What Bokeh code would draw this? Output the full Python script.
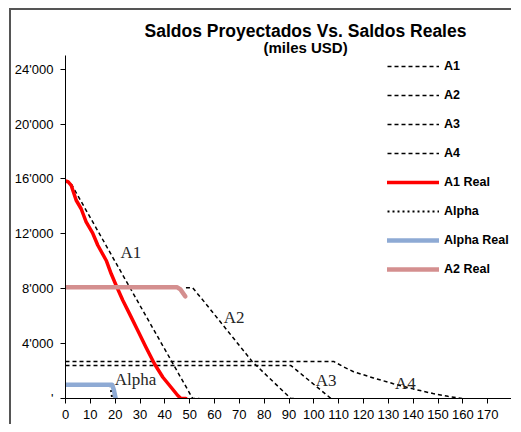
from bokeh.plotting import figure
from bokeh.models import FixedTicker, Label, Range1d, Title
from bokeh.embed import file_html
from bokeh.resources import INLINE

# ---- data ----
a1_x = [0, 1.8, 51.2, 53.9]
a1_y = [15800, 15800, 0, 0]

a2_x = [48.5, 51.2, 55.9, 75.3, 90.7, 92.8]
a2_y = [8070, 8070, 7040, 2670, 0, 0]

a3_x = [0, 90.8, 106.9]
a3_y = [2400, 2400, 0]

a4_x = [0, 108, 112, 116, 124, 132, 140, 148, 154, 159.7]
a4_y = [2700, 2700, 2300, 1950, 1500, 1080, 700, 360, 160, 0]

a1_real_x = [0, 1.0, 2.3, 4.3, 6.3, 8.3, 11.0, 13.0, 16.4, 18.4, 20.4, 23.1, 25.8,
             29.1, 32.4, 35.8, 39.2, 42.5, 45.2, 46.5, 48.5]
a1_real_y = [15850, 15800, 15530, 14450, 13830, 12870, 12030, 11170, 10060, 9090,
             8240, 7140, 6170, 4960, 3740, 2530, 1550, 820, 220, 0, 0]

alpha_x = [0, 18, 18.8]
alpha_y = [1000, 1000, 0]

alpha_real_x = [0, 18.8, 19.5, 20.2]
alpha_real_y = [1000, 1000, 600, 0]

a2_real_x = [0, 45, 46.3, 48.2]
a2_real_y = [8100, 8100, 7950, 7450]

x_ticks = list(range(0, 190, 10))
x_tick_labels = {t: str(t) for t in x_ticks}
x_tick_labels[180] = ""
y_ticks = [0, 4000, 8000, 12000, 16000, 20000, 24000]
y_tick_labels = {0: "'", 4000: "4'000", 8000: "8'000", 12000: "12'000",
                 16000: "16'000", 20000: "20'000", 24000: "24'000"}

title_text = "Saldos Proyectados Vs. Saldos Reales"
subtitle_text = "(miles USD)"

SANS = "Liberation Sans"
SERIF = "Liberation Serif"

p = figure(width=502, height=416, output_backend="svg", toolbar_location=None,
           x_range=Range1d(0, 180), y_range=Range1d(0, 25000),
           min_border_left=53, min_border_right=1, min_border_top=45,
           min_border_bottom=28,
           styles={"margin-left": "9px", "margin-top": "8px",
                   "border-left": "2px solid #555555", "border-top": "2px solid #555555"})
p.outline_line_color = None
p.xgrid.visible = False
p.ygrid.visible = False
p.background_fill_color = "white"
p.border_fill_color = "white"

for ax in (p.xaxis[0], p.yaxis[0]):
    ax.axis_line_color = "black"
    ax.major_tick_line_color = "black"
    ax.minor_tick_line_color = None
    ax.major_tick_in = 0
    ax.major_tick_out = 5
    ax.major_label_text_font = SANS
    ax.major_label_text_font_size = "13px"
    ax.major_label_text_color = "black"

p.xaxis[0].ticker = FixedTicker(ticks=x_ticks)
p.xaxis[0].major_label_overrides = x_tick_labels
p.xaxis[0].major_label_standoff = 6
p.yaxis[0].ticker = FixedTicker(ticks=y_ticks)
p.yaxis[0].major_label_overrides = y_tick_labels
p.yaxis[0].major_label_standoff = 7

dash = "4 3"
p.line(a1_x, a1_y, line_color="black", line_width=1.5, line_dash=dash, legend_label="A1")
p.line(a2_x, a2_y, line_color="black", line_width=1.5, line_dash=dash, legend_label="A2")
p.line(a3_x, a3_y, line_color="black", line_width=1.5, line_dash=dash, legend_label="A3")
p.line(a4_x, a4_y, line_color="black", line_width=1.5, line_dash=dash, legend_label="A4")
p.line(a1_real_x, a1_real_y, line_color="#ff0000", line_width=3.5, line_cap="round",
       line_join="round", legend_label="A1 Real")
p.line(alpha_x, alpha_y, line_color="black", line_width=2, line_dash="2 3", legend_label="Alpha")
p.line(alpha_real_x, alpha_real_y, line_color="#8eaad4", line_width=4.5, line_cap="round",
       line_join="round", legend_label="Alpha Real")
p.line(a2_real_x, a2_real_y, line_color="#d48f8f", line_width=4.5, line_cap="round",
       line_join="round", legend_label="A2 Real")

lg = p.legend[0]
lg.location = (322, 119)
lg.padding = 0
lg.margin = 0
lg.spacing = 9
lg.label_height = 20
lg.glyph_height = 20
lg.glyph_width = 52
lg.label_standoff = 5
lg.label_text_font = SANS
lg.label_text_font_size = "12.5px"
lg.label_text_font_style = "bold"
lg.label_text_color = "black"
lg.border_line_alpha = 0
lg.background_fill_alpha = 0

# in-plot annotations
for txt, x, y in [("A1", 22.1, 10660), ("A2", 63.7, 5930), ("Alpha", 19.8, 1360),
                  ("A3", 100.8, 1310), ("A4", 132.7, 1120)]:
    p.add_layout(Label(x=x, y=y, text=txt, text_font=SERIF,
                       text_font_size="17px", text_color="#262626",
                       text_baseline="alphabetic", text_align="left"))

# title and subtitle (subtitle added first: nearest to the plot area)
p.add_layout(Title(text=subtitle_text, text_font=SANS, text_font_size="15px",
                   text_font_style="bold", text_color="black", align="left",
                   offset=198, standoff=0), "above")
p.add_layout(Title(text=title_text, text_font=SANS, text_font_size="17.5px",
                   text_font_style="bold", text_color="black", align="left",
                   offset=79, standoff=-8), "above")

open("out.html", "w").write(file_html(p, INLINE))
